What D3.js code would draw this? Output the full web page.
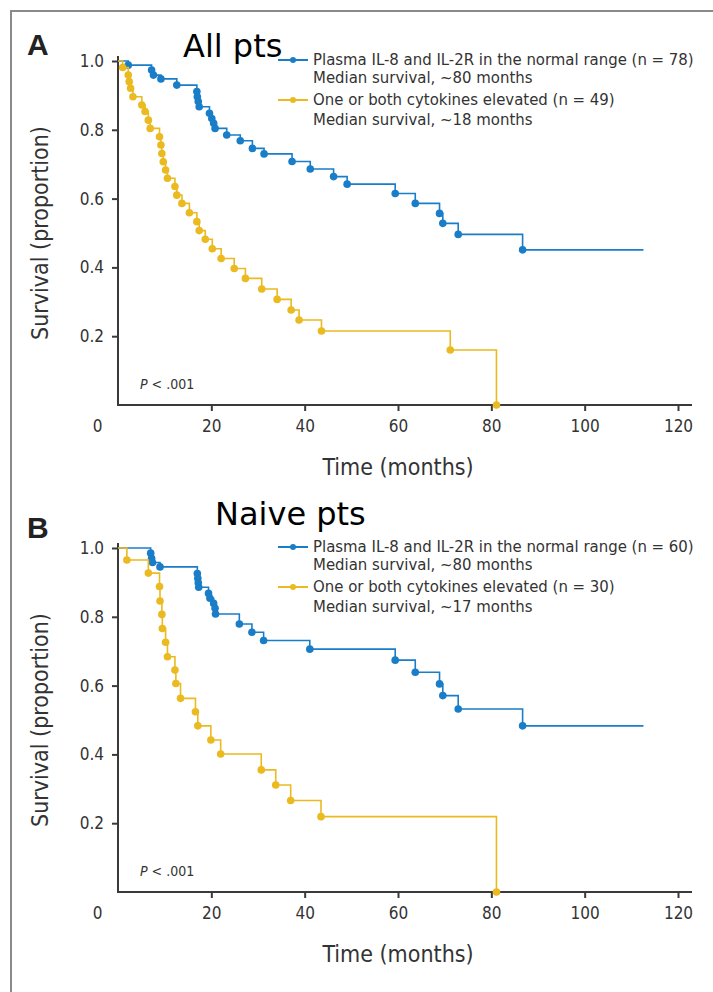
<!doctype html>
<html>
  <head>
    <title>Survival by plasma cytokines</title>
    <style>
      * { margin: 0; padding: 0; box-sizing: border-box; }
      body { background: #fff; }
      text { font-family: "Liberation Sans Narrow", "DejaVu Sans Condensed", sans-serif; fill: #333; }
    </style>
    <script src="https://cdnjs.cloudflare.com/ajax/libs/d3/7.8.5/d3.min.js"></script>
  </head>
  <body>
    <script>
      // axis ticks
      var xTicks = [0, 20, 40, 60, 80, 100, 120];
      var yTicks = [0.2, 0.4, 0.6, 0.8, 1.0];

      // panel A - all patients
      var allNormalTime = [2.2, 7.2, 7.6, 9.2, 12.6, 16.9, 17.0, 17.2, 17.4, 19.6, 20.1, 20.5, 20.8, 23.3, 26.2, 28.8, 31.3, 37.3, 41.2, 46.2, 49.1, 59.4, 63.7, 68.9, 69.6, 72.9, 86.7];
      var allNormalSurv = [0.988, 0.974, 0.959, 0.948, 0.930, 0.911, 0.896, 0.882, 0.867, 0.848, 0.833, 0.819, 0.804, 0.785, 0.768, 0.746, 0.730, 0.708, 0.686, 0.664, 0.642, 0.615, 0.586, 0.557, 0.528, 0.496, 0.451];
      var allNormalEnd = 112.6;
      var allElevTime = [1.0, 2.2, 2.4, 2.7, 3.2, 5.1, 5.8, 6.5, 6.9, 8.9, 9.2, 9.4, 9.7, 10.2, 10.6, 12.2, 12.6, 13.7, 15.3, 16.9, 17.4, 18.7, 20.2, 22.1, 24.9, 27.3, 30.8, 34.1, 37.1, 38.8, 43.6, 71.2, 81.1];
      var allElevSurv = [0.981, 0.959, 0.940, 0.921, 0.896, 0.872, 0.853, 0.828, 0.804, 0.780, 0.756, 0.731, 0.707, 0.683, 0.659, 0.635, 0.610, 0.586, 0.559, 0.533, 0.507, 0.482, 0.454, 0.426, 0.397, 0.368, 0.337, 0.307, 0.276, 0.247, 0.215, 0.160, 0.0];
      var allElevEnd = 81.1;

      // panel B - naive patients
      var naiveNormalTime = [7.0, 7.2, 7.4, 9.0, 17.0, 17.1, 17.2, 17.3, 19.4, 19.7, 20.5, 20.8, 20.9, 26.0, 28.7, 31.2, 41.1, 59.4, 63.7, 68.9, 69.6, 72.9, 86.7];
      var naiveNormalSurv = [0.985, 0.970, 0.958, 0.945, 0.926, 0.912, 0.899, 0.886, 0.868, 0.854, 0.839, 0.825, 0.808, 0.779, 0.755, 0.731, 0.706, 0.674, 0.639, 0.605, 0.571, 0.532, 0.483];
      var naiveNormalEnd = 112.6;
      var naiveElevTime = [1.9, 6.5, 8.9, 9.0, 9.4, 9.5, 10.2, 10.6, 12.2, 12.4, 13.4, 16.6, 17.1, 19.9, 22.0, 30.7, 33.8, 37.0, 43.5, 81.1];
      var naiveElevSurv = [0.965, 0.927, 0.888, 0.846, 0.807, 0.766, 0.726, 0.684, 0.645, 0.606, 0.563, 0.524, 0.483, 0.442, 0.401, 0.355, 0.311, 0.266, 0.219, 0.0];
      var naiveElevEnd = 81.1;

      var legendA = ["Plasma IL-8 and IL-2R in the normal range (n = 78)", "Median survival, ~80 months", "One or both cytokines elevated (n = 49)", "Median survival, ~18 months"];
      var legendB = ["Plasma IL-8 and IL-2R in the normal range (n = 60)", "Median survival, ~80 months", "One or both cytokines elevated (n = 30)", "Median survival, ~17 months"];

      var blue = "#1a7dc8";
      var yellow = "#ebb920";
      var axisColor = "#3a3a3a";

      var svg = d3.select("body").append("svg")
                  .attr("width", 713)
                  .attr("height", 992);

      // grey frame round the figure (top and left edges visible)
      svg.append("path")
         .attr("d", "M11,992V11H713")
         .attr("fill", "none")
         .attr("stroke", "#8a8a8a")
         .attr("stroke-width", 2);

      var x = d3.scaleLinear().domain([0, 120]).range([118, 678]);

      function makeSteps(times, survs, end) {
        var pts = [[0, 1]];
        for (var i = 0; i < times.length; i++) pts.push([times[i], survs[i]]);
        pts.push([end, survs[survs.length - 1]]);
        return pts;
      }

      var drawPanel = function(top, letter, letterY, title, titleX, titleY, legend, series) {
        var y = d3.scaleLinear().domain([0, 1]).range([top + 344, top]);
        var g = svg.append("g");

        g.append("text")
         .attr("x", 27).attr("y", letterY)
         .style("font-family", "'Liberation Sans', Arial, sans-serif")
         .style("font-weight", "bold").style("font-size", "30px")
         .style("fill", "#222")
         .text(letter);

        g.append("text")
         .attr("x", titleX).attr("y", titleY)
         .style("font-family", "'DejaVu Sans', sans-serif")
         .style("font-size", "32px").style("fill", "#000")
         .text(title);

        // y axis
        var yAxis = d3.axisLeft(y).tickValues(yTicks).tickSize(6).tickPadding(8)
                      .tickFormat(d3.format(".1f"));
        var ya = g.append("g").attr("transform", "translate(" + x(0) + ",0)").call(yAxis);
        ya.select(".domain").remove();
        g.append("line")
         .attr("x1", x(0)).attr("x2", x(0))
         .attr("y1", y(1) - 5).attr("y2", y(0))
         .attr("stroke", axisColor).attr("stroke-width", 2);

        // x axis
        var xAxis = d3.axisBottom(x).tickValues(xTicks).tickSize(6).tickPadding(9);
        var xa = g.append("g").attr("transform", "translate(0," + y(0) + ")").call(xAxis);
        xa.select(".domain").remove();
        xa.selectAll(".tick").filter(function(d) { return d === 0; }).select("line").remove();
        xa.selectAll(".tick").filter(function(d) { return d === 0; }).select("text").attr("x", -21);
        g.append("line")
         .attr("x1", x(0) - 1).attr("x2", x(123))
         .attr("y1", y(0)).attr("y2", y(0))
         .attr("stroke", axisColor).attr("stroke-width", 2);

        g.selectAll(".tick line").attr("stroke", axisColor).attr("stroke-width", 2);
        g.selectAll(".tick text").style("font-size", "17px").style("fill", "#333");

        g.append("text")
         .attr("transform", "translate(48," + y(0.5) + ") rotate(-90)")
         .attr("text-anchor", "middle")
         .style("font-size", "23px")
         .text("Survival (proportion)");

        g.append("text")
         .attr("x", x(60)).attr("y", y(0) + 70)
         .attr("text-anchor", "middle")
         .style("font-size", "23px")
         .text("Time (months)");

        var p = g.append("text").attr("x", 140).attr("y", y(0) - 16).style("font-size", "14px");
        p.append("tspan").style("font-style", "italic").text("P");
        p.append("tspan").text(" < .001");

        var line = d3.line()
                     .x(function(d) { return x(d[0]); })
                     .y(function(d) { return y(d[1]); })
                     .curve(d3.curveStepAfter);

        series.forEach(function(s) {
          g.append("path")
           .attr("d", line(makeSteps(s.times, s.survs, s.end)))
           .attr("fill", "none")
           .attr("stroke", s.color)
           .attr("stroke-width", 1.6);
          g.selectAll(null)
           .data(d3.zip(s.times, s.survs))
           .enter().append("circle")
           .attr("cx", function(d) { return x(d[0]); })
           .attr("cy", function(d) { return y(d[1]); })
           .attr("r", 3.8)
           .attr("fill", s.color);
        });

        // legend
        var ly = [top - 1, top + 17, top + 39, top + 59];
        var lx = 313;
        [0, 2].forEach(function(k, j) {
          var c = series[j].color;
          g.append("line").attr("x1", lx - 35).attr("x2", lx - 5)
           .attr("y1", ly[k]).attr("y2", ly[k])
           .attr("stroke", c).attr("stroke-width", 2);
          g.append("circle").attr("cx", lx - 20).attr("cy", ly[k]).attr("r", 3).attr("fill", c);
        });
        legend.forEach(function(t, k) {
          g.append("text")
           .attr("x", lx).attr("y", ly[k] + 5)
           .style("font-size", "16.6px")
           .text(t);
        });
      };

      drawPanel(61, "A", 55, "All pts", 183, 57, legendA, [
        {times: allNormalTime, survs: allNormalSurv, end: allNormalEnd, color: blue},
        {times: allElevTime, survs: allElevSurv, end: allElevEnd, color: yellow}
      ]);
      drawPanel(548, "B", 538, "Naive pts", 215, 525, legendB, [
        {times: naiveNormalTime, survs: naiveNormalSurv, end: naiveNormalEnd, color: blue},
        {times: naiveElevTime, survs: naiveElevSurv, end: naiveElevEnd, color: yellow}
      ]);
    </script>
  </body>
</html>
